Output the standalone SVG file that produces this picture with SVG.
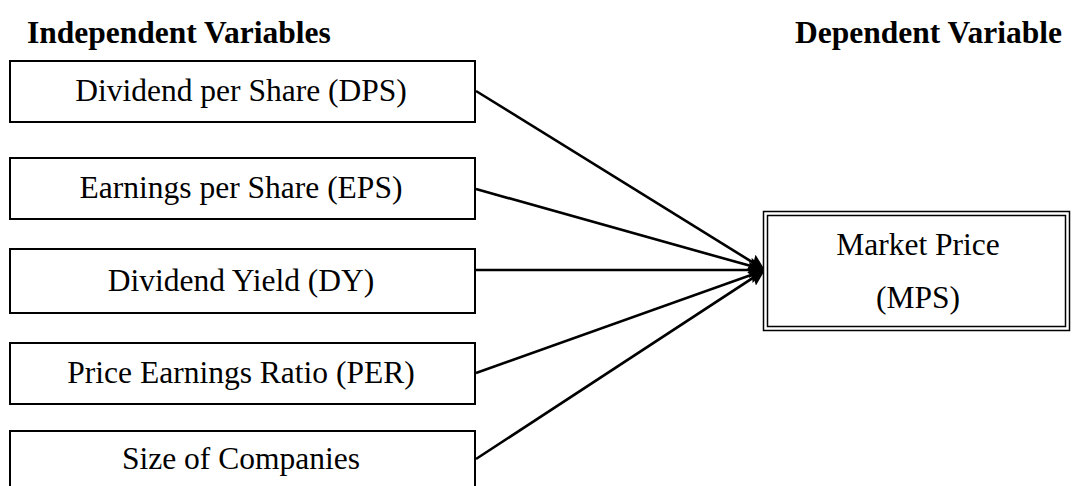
<svg xmlns="http://www.w3.org/2000/svg" width="1072" height="486" viewBox="0 0 1072 486">
<style>
.t{font-family:"Liberation Serif","Times New Roman",serif;font-size:31.5px;fill:#000}
.h{font-family:"Liberation Serif","Times New Roman",serif;font-size:31.5px;font-weight:bold;fill:#000}
.box{fill:#fff;stroke:#000;stroke-width:2}
.ln{stroke:#000;stroke-width:2.6;fill:none;marker-end:url(#ah)}
</style>
<defs>
<marker id="ah" viewBox="0 0 10 10" refX="10" refY="5" markerWidth="6.2" markerHeight="6.2" markerUnits="strokeWidth" orient="auto">
<path d="M0,0 L10,5 L0,10 L1.5,5 Z" fill="#000"/>
</marker>
</defs>
<rect width="1072" height="486" fill="#fff"/>
<text class="h" x="27" y="43">Independent Variables</text>
<text class="h" x="795" y="43">Dependent Variable</text>
<g id="connectors">
<line class="ln" x1="476" y1="91" x2="765" y2="270"/>
<line class="ln" x1="476" y1="189" x2="765" y2="270"/>
<line class="ln" x1="476" y1="270" x2="765" y2="270"/>
<line class="ln" x1="476" y1="373" x2="765" y2="270"/>
<line class="ln" x1="476" y1="459" x2="765" y2="270"/>
</g>
<g id="dps"><rect class="box" x="10" y="61" width="465" height="61"/><text class="t" x="241" y="101" text-anchor="middle">Dividend per Share (DPS)</text></g>
<g id="eps"><rect class="box" x="10" y="158" width="465" height="61"/><text class="t" x="241" y="198" text-anchor="middle">Earnings per Share (EPS)</text></g>
<g id="dy"><rect class="box" x="10" y="249" width="465" height="64"/><text class="t" x="241" y="291" text-anchor="middle">Dividend Yield (DY)</text></g>
<g id="per"><rect class="box" x="10" y="343" width="465" height="61"/><text class="t" x="241" y="383" text-anchor="middle">Price Earnings Ratio (PER)</text></g>
<g id="size"><rect class="box" x="10" y="431" width="465" height="62"/><text class="t" x="241" y="469" text-anchor="middle">Size of Companies</text></g>
<g id="mps">
<rect x="763.5" y="211.5" width="306" height="119" fill="#fff" stroke="#000" stroke-width="1.5"/>
<rect x="767.5" y="215.5" width="298" height="111" fill="none" stroke="#000" stroke-width="1.5"/>
<text class="t" x="918" y="255" text-anchor="middle">Market Price</text>
<text class="t" x="918" y="308" text-anchor="middle">(MPS)</text>
</g>
</svg>
